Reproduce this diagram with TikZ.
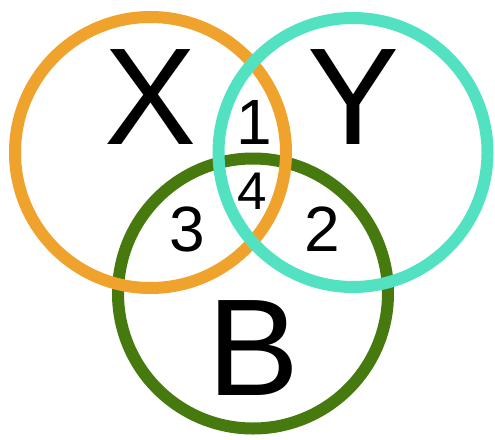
\documentclass[tikz,border=0pt]{standalone}
\usepackage{fontspec}
\setmainfont{Liberation Sans}
\definecolor{corange}{HTML}{F0A32C}
\definecolor{cteal}{HTML}{52E2C2}
\definecolor{cgreen}{HTML}{477A0E}
\begin{document}
\begin{tikzpicture}[x=1pt,y=-1pt,
  ring/.style={line width=12pt},
  big/.style={font=\fontsize{138}{138}\selectfont, inner sep=0pt},
  num/.style={font=\fontsize{64}{64}\selectfont, inner sep=0pt}]
\useasboundingbox (0,0) rectangle (495,439);
\draw[ring, cgreen] (253,293.5) circle (135);
\draw[ring, corange] (150.5,152.5) circle (135.5);
\draw[ring, cteal] (353,152.5) circle (134.5);
\node[big] (X) at (151,97.5) {X};
\node[big] (Y) at (354,97.5) {Y};
\node[big] (B) at (254,348.5) {B};
\node[num] (n1) at (254,122) {1};
\node[num, font=\fontsize{53}{53}\selectfont] (n4) at (252,191) {4};
\node[num] (n3) at (187,229) {3};
\node[num] (n2) at (322,229) {2};
\end{tikzpicture}
\end{document}
